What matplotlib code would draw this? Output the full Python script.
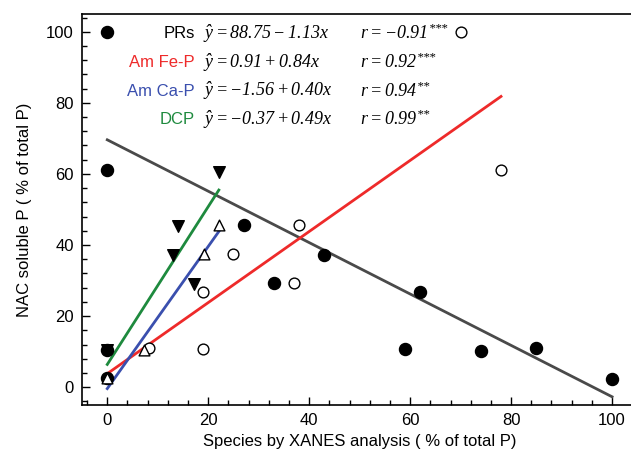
import numpy as np
import matplotlib
matplotlib.use("Agg")
import matplotlib.pyplot as plt
from matplotlib.ticker import MultipleLocator

plt.rcParams['font.family'] = ['Liberation Sans', 'DejaVu Sans']
plt.rcParams['mathtext.fontset'] = 'custom'
plt.rcParams['mathtext.it'] = 'Liberation Serif:italic'
plt.rcParams['mathtext.rm'] = 'Liberation Serif:italic'

# points
prs_x = [0, 0, 0, 0, 27, 33, 43, 59, 62, 74, 85, 100]
prs_y = [100, 61, 10.5, 2.5, 45.5, 29.2, 37.2, 10.7, 26.8, 10.2, 11.0, 2.4]

fep_x = [70, 78, 38, 25, 37, 19, 19, 8.2]
fep_y = [100, 61, 45.5, 37.4, 29.2, 26.7, 10.7, 10.9]

cap_x = [22.2, 19.2, 7.2, 0]
cap_y = [45.6, 37.5, 10.5, 2.5]

dcp_x = [22.1, 14.0, 13.1, 17.1, 0]
dcp_y = [60.6, 45.3, 37.2, 29.0, 10.5]

# fitted lines as drawn: intercept, slope, x start, x end
prs_fit = (69.6, -0.723, 0, 100)
fep_fit = (3.8, 1.0, 0, 78)
cap_fit = (-0.4, 2.0, 0, 22.2)
dcp_fit = (6.4, 2.22, 0, 22.1)

names = ["PRs", "Am Fe-P", "Am Ca-P", "DCP"]
eqs = [r"$\hat{y}=88.75-1.13x$", r"$\hat{y}=0.91+0.84x$",
       r"$\hat{y}=-1.56+0.40x$", r"$\hat{y}=-0.37+0.49x$"]
rs = [r"$r=-0.91^{\text{***}}$", r"$r=0.92^{\text{***}}$",
      r"$r=0.94^{\text{**}}$", r"$r=0.99^{\text{**}}$"]
name_colors = ["black", "#ee2a2a", "#3a4fae", "#1e8a3e"]
line_colors = ["#4a4a4a", "#ee2a2a", "#3a4fae", "#1e8a3e"]

fig = plt.figure(figsize=(6.31, 4.66), dpi=100)
ax = fig.add_axes([0.130, 0.131, 0.880, 0.839])

ax.scatter(prs_x, prs_y, s=75, marker="o", color="black", zorder=3)
ax.scatter(fep_x, fep_y, s=60, marker="o", facecolor="white", edgecolor="black", linewidth=1.0, zorder=3)
ax.scatter(dcp_x, dcp_y, s=70, marker="v", color="black", zorder=4)
ax.scatter(cap_x, cap_y, s=60, marker="^", facecolor="white", edgecolor="black", linewidth=1.0, zorder=4)

for fit, c in zip([prs_fit, fep_fit, cap_fit, dcp_fit], line_colors):
    b, m, x0, x1 = fit
    xs = np.array([x0, x1])
    ax.plot(xs, b + m * xs, color=c, lw=2.0, zorder=2)

row_y = [99.5, 91.3, 83.3, 75.3]
for i in range(4):
    ax.text(17.4, row_y[i], names[i], color=name_colors[i], ha="right", va="center", fontsize=12)
    ax.text(19.0, row_y[i], eqs[i], ha="left", va="center", fontsize=13)
    ax.text(50.1, row_y[i], rs[i], ha="left", va="center", fontsize=13)

ax.set_xlim(-5, 105)
ax.set_ylim(-5, 105)
ax.xaxis.set_major_locator(MultipleLocator(20))
ax.xaxis.set_minor_locator(MultipleLocator(4))
ax.yaxis.set_major_locator(MultipleLocator(20))
ax.yaxis.set_minor_locator(MultipleLocator(4))
ax.tick_params(which="both", direction="in", labelsize=12, width=1, pad=6)
ax.tick_params(which="major", length=6)
ax.tick_params(which="minor", length=3.5)
ax.spines["right"].set_visible(False)
for s in ["left", "bottom", "top"]:
    ax.spines[s].set_linewidth(1.2)

ax.set_xlabel("Species by XANES analysis ( % of total P)", fontsize=12, labelpad=4)
ax.set_ylabel("NAC soluble P ( % of total P)", fontsize=12, labelpad=10)

fig.savefig("out.png", dpi=100)
